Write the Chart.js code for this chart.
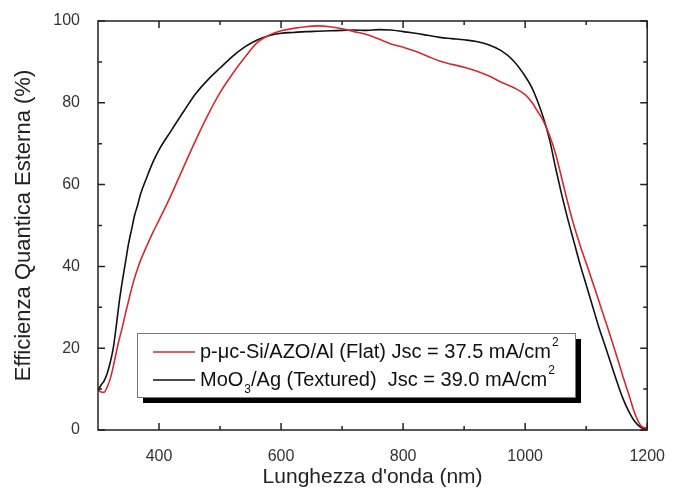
<!DOCTYPE html>
<html>
<head>
<meta charset="utf-8">
<script src="https://cdn.jsdelivr.net/npm/chart.js@4"></script>
<style>
  body { margin: 0; background: #fff; }
  #wrap { width: 674px; height: 490px; }
</style>
</head>
<body>
<div id="wrap"><canvas id="eqe_chart"></canvas></div>
<script>
// wavelength (nm)
const wavelength = [300,305,310,315,320,325,330,335,340,345,350,355,360,365,370,380,390,400,420,440,460,480,500,520,540,560,580,600,620,640,660,680,700,720,740,760,780,800,820,840,860,880,900,920,940,960,980,1000,1010,1020,1030,1040,1050,1060,1070,1080,1090,1100,1110,1120,1130,1140,1150,1160,1170,1180,1190,1200];

// p-uc-Si/AZO/Al (Flat)
const eqeFlat = [9.8,9.3,9.2,10.5,12.5,15.5,19,22.3,25.2,28.5,31.5,34.5,37.2,39.5,41.6,45,48.3,51.3,57.5,64.2,70.8,77,82.5,87,91,94.6,96.5,97.6,98.2,98.6,98.8,98.6,98.1,97.4,96.7,95.6,94.4,93.6,92.6,91.4,90.2,89.4,88.7,87.8,86.6,85.1,83.8,82,80.3,78,75.5,72,67.5,61.5,55.5,50,45.2,40.8,36.4,31.9,27.4,22.8,18.1,13.2,8.6,3.9,1,0.4];

// MoO3/Ag (Textured)
const eqeTextured = [9.5,11,12,13.8,16.5,20,25.5,31.5,36.5,41,45.5,49,52.5,55,57.8,61.8,65.5,68.5,73.2,77.8,82.2,85.6,88.5,91.3,93.6,95.3,96.4,97,97.2,97.4,97.5,97.6,97.7,97.8,97.7,97.9,97.8,97.4,97,96.5,96,95.7,95.4,95,94.2,92.8,90.4,86.5,84,80.5,76.3,71,64,57.5,51.5,46,40.5,35.5,30.5,25.5,21,16.5,12,7.8,4.5,2,0.6,0.2];

const xTicks = [400, 600, 800, 1000, 1200];
const xMinor = [500, 700, 900, 1100];
const yTicks = [0, 20, 40, 60, 80, 100];
const yMinor = [10, 30, 50, 70, 90];

const FONT = "'Liberation Sans', Arial, sans-serif";

// ticks pointing inwards on all four sides + closed frame
const frameTicks = {
  id: "frameTicks",
  afterDatasetsDraw(chart) {
    const { ctx, chartArea: a, scales } = chart;
    const xs = scales.x, ys = scales.y;
    ctx.save();
    ctx.strokeStyle = "#222";
    ctx.lineWidth = 1.5;
    ctx.strokeRect(a.left, a.top, a.right - a.left, a.bottom - a.top);
    ctx.beginPath();
    const tx = (v, len) => {
      const p = xs.getPixelForValue(v);
      ctx.moveTo(p, a.bottom); ctx.lineTo(p, a.bottom - len);
      ctx.moveTo(p, a.top); ctx.lineTo(p, a.top + len);
    };
    const ty = (v, len) => {
      const p = ys.getPixelForValue(v);
      ctx.moveTo(a.left, p); ctx.lineTo(a.left + len, p);
      ctx.moveTo(a.right, p); ctx.lineTo(a.right - len, p);
    };
    xTicks.forEach(v => tx(v, 7));
    xMinor.forEach(v => tx(v, 4));
    yTicks.forEach(v => ty(v, 7));
    yMinor.forEach(v => ty(v, 4));
    ctx.stroke();
    ctx.restore();
  }
};

// boxed legend with drop shadow, sub/superscripts
const boxLegend = {
  id: "boxLegend",
  afterDraw(chart) {
    const ctx = chart.ctx;
    const L = 137, T = 333, W = 438, H = 64;
    ctx.save();
    ctx.fillStyle = "#000";
    ctx.fillRect(L + 6, T + 6, W, H);
    ctx.fillStyle = "#fff";
    ctx.fillRect(L, T, W, H);
    ctx.strokeStyle = "#777";
    ctx.lineWidth = 1;
    ctx.strokeRect(L + 0.5, T + 0.5, W, H);

    const rows = [
      { color: "#d42a30", y: 352, parts: [["p-\u03bcc-Si/AZO/Al (Flat) Jsc = 37.5 mA/cm", 0], ["2", 1]] },
      { color: "#111", y: 380, parts: [["MoO", 0], ["3", -1], ["/Ag (Textured)  Jsc = 39.0 mA/cm", 0], ["2", 1]] }
    ];
    ctx.textBaseline = "middle";
    ctx.textAlign = "left";
    rows.forEach(r => {
      ctx.strokeStyle = r.color;
      ctx.lineWidth = 1.5;
      ctx.beginPath();
      ctx.moveTo(153, r.y); ctx.lineTo(195, r.y);
      ctx.stroke();
      let x = 200;
      ctx.fillStyle = "#111";
      r.parts.forEach(([txt, pos]) => {
        if (pos === 0) {
          ctx.font = "20px " + FONT;
          ctx.fillText(txt, x, r.y);
        } else {
          ctx.font = "12px " + FONT;
          ctx.fillText(txt, x + 1, r.y + (pos > 0 ? -9 : 10));
        }
        x += ctx.measureText(txt).width + (pos === 0 ? 0 : 1);
      });
    });
    ctx.restore();
  }
};

const ctx = document.getElementById("eqe_chart");

new Chart(ctx, {
  type: "line",
  data: {
    datasets: [
      {
        label: "p-\u03bcc-Si/AZO/Al (Flat)",
        data: wavelength.map((w, i) => ({ x: w, y: eqeFlat[i] })),
        borderColor: "#d42a30",
        borderWidth: 1.6,
        pointRadius: 0,
        cubicInterpolationMode: "monotone",
      },
      {
        label: "MoO3/Ag (Textured)",
        data: wavelength.map((w, i) => ({ x: w, y: eqeTextured[i] })),
        borderColor: "#111",
        borderWidth: 1.6,
        pointRadius: 0,
        cubicInterpolationMode: "monotone",
      },
    ],
  },
  options: {
    responsive: true,
    maintainAspectRatio: false,
    animation: false,
    layout: { padding: { top: 21, right: 19, left: 0, bottom: 0 } },
    plugins: { legend: { display: false }, tooltip: { enabled: false } },
    scales: {
      x: {
        type: "linear",
        min: 300,
        max: 1200,
        afterBuildTicks: s => { s.ticks = xTicks.map(v => ({ value: v })); },
        afterFit: s => { s.height = 60; },
        grid: { display: false },
        border: { display: false },
        ticks: { padding: 9, color: "#333", font: { family: FONT, size: 16 }, callback: v => String(v) },
        title: {
          display: true,
          text: "Lunghezza d'onda (nm)",
          color: "#222",
          padding: { top: 0, bottom: 0 },
          font: { family: FONT, size: 21 },
        },
      },
      y: {
        min: 0,
        max: 100,
        afterBuildTicks: s => { s.ticks = yTicks.map(v => ({ value: v })); },
        afterFit: s => { s.width = 98; },
        grid: { display: false },
        border: { display: false },
        ticks: { padding: 10, color: "#333", font: { family: FONT, size: 16 }, callback: v => String(v) },
        title: {
          display: true,
          text: "Efficienza Quantica Esterna (%)",
          color: "#222",
          padding: { top: 11, bottom: 0 },
          font: { family: FONT, size: 22 },
        },
      },
    },
  },
  plugins: [frameTicks, boxLegend],
});
</script>
</body>
</html>
